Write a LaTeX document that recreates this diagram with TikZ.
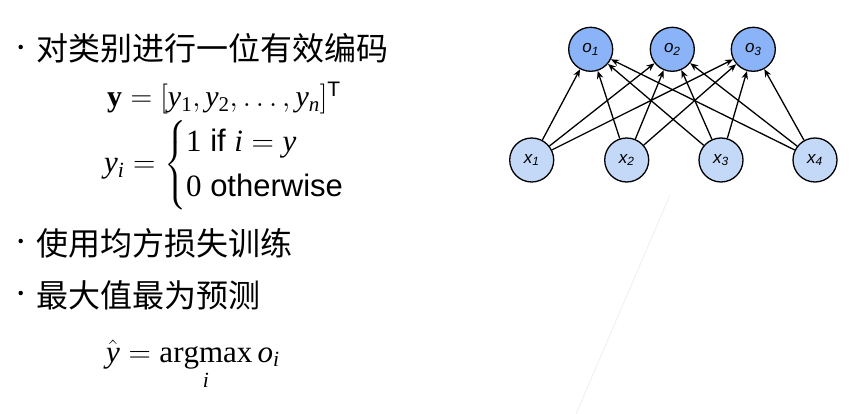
\RequirePackage{fix-cm}
\documentclass[tikz,border=0pt]{standalone}
\usepackage{amsmath}
\usepackage{fontspec}
\setmainfont{Liberation Serif}
\newfontfamily\cjk{Noto Sans CJK SC}
\newfontfamily\arial{Liberation Sans}
\usetikzlibrary{arrows.meta}
\DeclareMathOperator*{\argmaxop}{argmax}
\newcommand{\mv}[1]{\mathit{#1}}
\definecolor{ofill}{RGB}{138,180,247}
\definecolor{xfill}{RGB}{196,216,248}
\tikzset{
  basenode/.style={circle,draw=black,line width=1.3pt,minimum size=44pt,inner sep=0pt,
    font=\arial\itshape\fontsize{17}{20}\selectfont},
  onode/.style={basenode,fill=ofill},
  xnode/.style={basenode,fill=xfill},
  conn/.style={line width=1.3pt,-{Stealth[length=8pt,width=6.5pt]}},
  bulletdot/.style={circle,fill=black,inner sep=0pt,minimum size=4.5pt},
  cjktext/.style={anchor=west,inner sep=0pt,font=\cjk\fontsize{32}{36}\selectfont},
  mathtext/.style={inner sep=0pt,font=\fontsize{30}{36}\selectfont},
  mathbig/.style={inner sep=0pt,font=\fontsize{31}{37}\selectfont}
}
\begin{document}
\begin{tikzpicture}[x=1pt,y=-1pt]
\useasboundingbox[fill=white] (0,0) rectangle (865,414);
% faint stray line
\draw[black!8,line width=0.6pt] (670,195) -- (576,414);
% bullets and text
\node[bulletdot] (b1) at (20.7,47) {};
\node[cjktext] (t1) at (36.5,48) {对类别进行一位有效编码};
\node[bulletdot] (b2) at (20.7,241) {};
\node[cjktext] (t2) at (36.5,243) {使用均方损失训练};
\node[bulletdot] (b3) at (20.7,293) {};
\node[cjktext] (t3) at (36.5,295) {最大值最为预测};
% equations
\node[mathtext,anchor=base west] (e1) at (107,107) {$\mathbf{y}=[\mv{y}_{\mathrm{1}},\mv{y}_{\mathrm{2}},\ldots,\mv{y}_{\mv{n}}]^{\text{\arial T}}$};
\node[mathbig,anchor=west] (e2) at (104,165) {$\mv{y}_{\mv{i}}=\begin{cases}\mathrm{1}\text{\arial\ if }\mv{i}=\mv{y}\\\mathrm{0}\text{\arial\ otherwise}\end{cases}$};
\node[mathbig,anchor=base west] (e3) at (106,362) {$\displaystyle\hat{\mv{y}}=\argmaxop_{\mv{i}}\mv{o}_{\mv{i}}$};
% network
\node[onode] (o1) at (590.7,49.3) {o\textsubscript{1}};
\node[onode] (o2) at (672.3,49.3) {o\textsubscript{2}};
\node[onode] (o3) at (753.3,49.3) {o\textsubscript{3}};
\node[xnode] (x1) at (531.7,160) {x\textsubscript{1}};
\node[xnode] (x2) at (626.7,160) {x\textsubscript{2}};
\node[xnode] (x3) at (721,160) {x\textsubscript{3}};
\node[xnode] (x4) at (815,160) {x\textsubscript{4}};
\foreach \i in {1,2,3,4}{
  \foreach \j in {1,2,3}{
    \draw[conn] (x\i) -- (o\j);
  }
}
\end{tikzpicture}
\end{document}
